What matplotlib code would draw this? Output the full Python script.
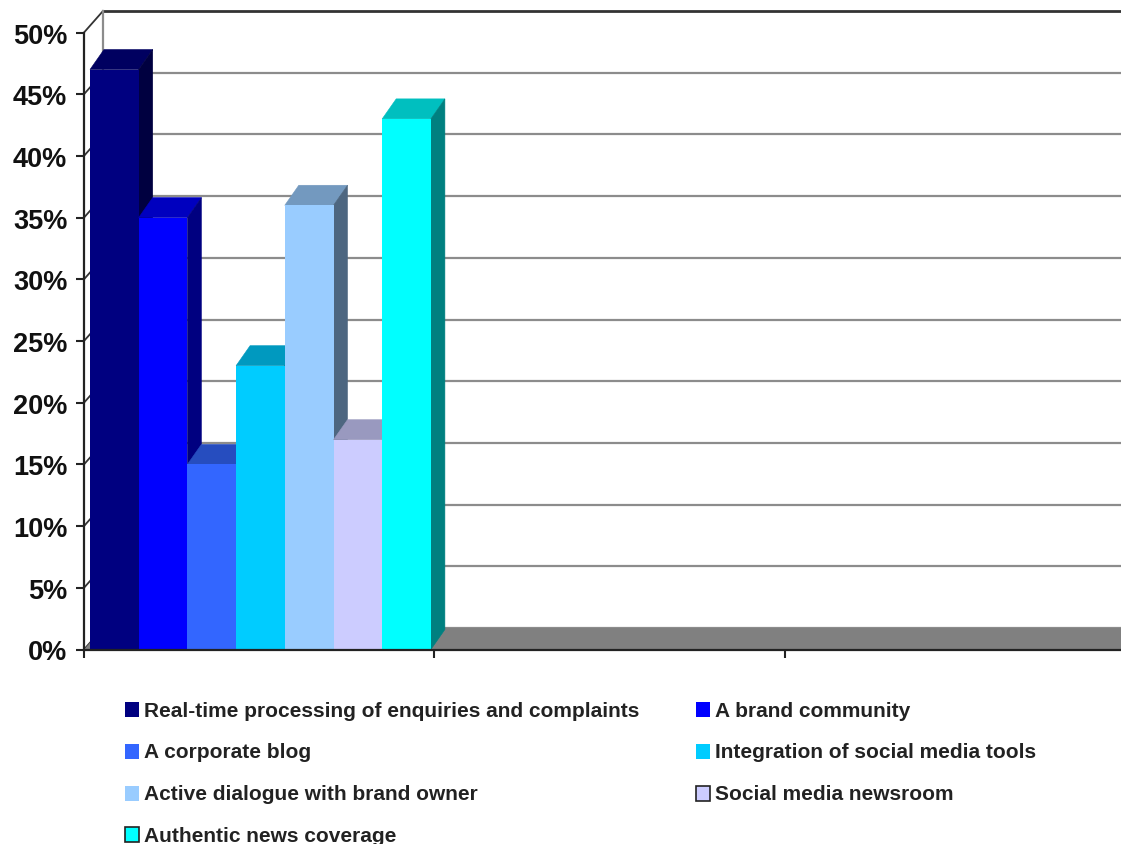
import numpy as np
import matplotlib
matplotlib.use('Agg')
import matplotlib.pyplot as plt
from matplotlib.patches import Polygon, Rectangle
from matplotlib.colors import to_rgb

# Valores
categorias = ['Real-time processing of enquiries and complaints', 'A brand community',
              'A corporate blog', 'Integration of social media tools',
              'Active dialogue with brand owner', 'Social media newsroom',
              'Authentic news coverage']
valores = [47, 35, 15, 23, 36, 17, 43]
colores = ['#000080', '#0000ff', '#3366ff', '#00ccff', '#99ccff', '#ccccff', '#00ffff']
ticks_y = [0, 5, 10, 15, 20, 25, 30, 35, 40, 45, 50]
ticks_x = [0, 1, 2]

W, H = 1121, 845
x_px = 350.3        # pixeles por grupo
y_px = 12.34        # pixeles por 1%
ancho = 48.7 / x_px
inicio = 6 / x_px
prof_x, prof_y = 14 / x_px, 20 / y_px        # profundidad de las barras
pared_x, pared_y = 19 / x_px, 21.5 / y_px    # profundidad de la pared
x_max = (W - 84) / x_px

plt.rcParams['font.family'] = ['Liberation Sans', 'DejaVu Sans']

def mezcla(color, k):
    return tuple(c * k for c in to_rgb(color))

fig = plt.figure(figsize=(W / 100, H / 100), dpi=100)
ax = fig.add_axes([84 / W, (H - 650.5) / H, (W - 84) / W, 617 / H])
ax.set_xlim(0, x_max)
ax.set_ylim(0, 50)
ax.patch.set_alpha(0)

# pared del fondo
for v in ticks_y:
    oscuro = v == 50
    ax.plot([pared_x, x_max], [v + pared_y, v + pared_y], color='#333333' if oscuro else '#8c8c8c',
            lw=2.0 if oscuro else 1.6, clip_on=False, zorder=1)
    ax.plot([0, pared_x], [v, v + pared_y], color='#333333', lw=1.3, clip_on=False, zorder=1)
ax.plot([pared_x, pared_x], [pared_y, 50 + pared_y], color='#8c8c8c', lw=1.6, clip_on=False, zorder=1)

# piso
ax.add_patch(Polygon([(0, 0), (pared_x, pared_y), (x_max, pared_y), (x_max, 0)],
                     facecolor='#808080', edgecolor='none', zorder=2))

# barras
for i, (v, c) in enumerate(zip(valores, colores)):
    x0 = inicio + i * ancho
    x1 = x0 + ancho
    z = 3 + i
    ax.bar(x0, v, width=ancho, align='edge', color=c, linewidth=0, zorder=z + 0.2)
    tapa = mezcla(c, 0.75)
    lado = mezcla(c, 0.5)
    ax.add_patch(Polygon([(x0, v), (x0 + prof_x, v + prof_y), (x1 + prof_x, v + prof_y), (x1, v)],
                         facecolor=tapa, edgecolor=tapa, linewidth=0.4, zorder=z, clip_on=False))
    ax.add_patch(Polygon([(x1, 0), (x1 + prof_x, prof_y), (x1 + prof_x, v + prof_y), (x1, v)],
                         facecolor=lado, edgecolor=lado, linewidth=0.4, zorder=z, clip_on=False))

# ejes
for lado in ['top', 'right']:
    ax.spines[lado].set_visible(False)
for lado in ['left', 'bottom']:
    ax.spines[lado].set_color('#222222')
    ax.spines[lado].set_linewidth(1.6)
    ax.spines[lado].set_zorder(20)
ax.set_yticks(ticks_y)
ax.set_yticklabels([f'{v}%' for v in ticks_y], fontsize=19.5, color='#111111', fontweight='bold')
ax.set_xticks(ticks_x)
ax.set_xticklabels([])
ax.tick_params(axis='both', length=6, width=1.5, color='#222222', pad=6)

# leyenda a mano, filas de izquierda a derecha
filas_y = [709, 750.5, 792.5, 834]
cols_x = [125, 696]
for i, (nombre, c) in enumerate(zip(categorias, colores)):
    px = cols_x[i % 2]
    py = filas_y[i // 2]
    borde = '#222222' if i >= 5 else 'none'
    fig.add_artist(Rectangle((px / W, (H - py - 9) / H), 14 / W, 15 / H, transform=fig.transFigure,
                             facecolor=c, edgecolor=borde, linewidth=1.2))
    fig.text((px + 19) / W, (H - py - 2.5) / H, nombre, fontsize=15, color='#222222',
             va='center', ha='left', fontweight='bold')

fig.savefig('out.png', dpi=100)
